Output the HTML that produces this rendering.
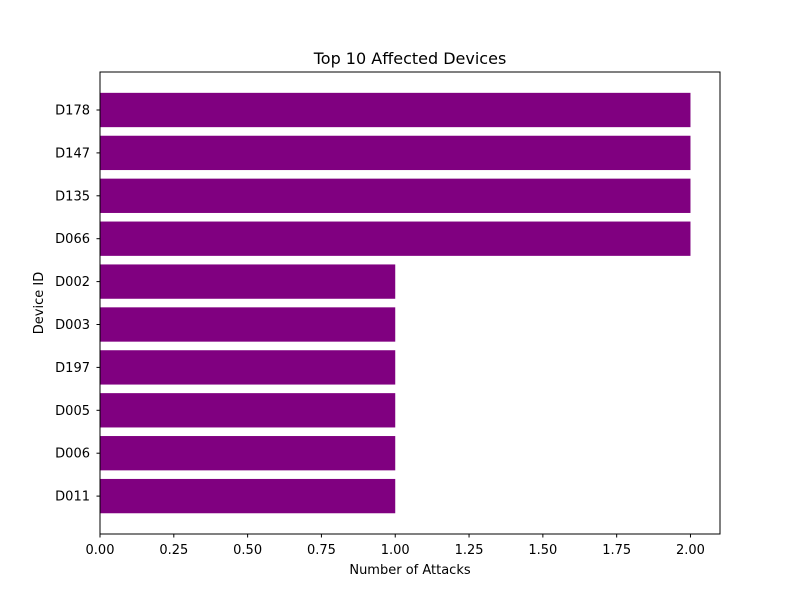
<!DOCTYPE html>
<html><head><meta charset="utf-8"><style>
body{margin:0;background:#fff;}
svg text{font-family:"DejaVu Sans","Liberation Sans",sans-serif;}
</style></head><body>
<svg width="800" height="600" xmlns="http://www.w3.org/2000/svg">
<g id="bars"></g>
<g id="xt"></g>
<g id="yt"></g>
<rect x="100" y="72" width="620" height="462" fill="none" stroke="#000" stroke-width="1"/>
<text x="410" y="64" font-size="16" text-anchor="middle">Top 10 Affected Devices</text>
<text x="410" y="574" font-size="13" text-anchor="middle">Number of Attacks</text>
<text x="0" y="0" font-size="13" text-anchor="middle" transform="translate(43,303) rotate(-90)">Device ID</text>
</svg>
<script>
const devices=["D178","D147","D135","D066","D002","D003","D197","D005","D006","D011"];
const attacks=[2,2,2,2,1,1,1,1,1,1];
const xTicks=[0,0.25,0.5,0.75,1,1.25,1.5,1.75,2];
const xTickLabels=["0.00","0.25","0.50","0.75","1.00","1.25","1.50","1.75","2.00"];
const NS="http://www.w3.org/2000/svg";
const xMax=Math.max(...attacks)*1.05;
const x=v=>100+v/xMax*620;
const n=devices.length;
const step=42.9;
const y=i=>110+i*step;
function mk(t,a,p){const e=document.createElementNS(NS,t);for(const k in a)e.setAttribute(k,a[k]);p.appendChild(e);return e;}
const bars=document.getElementById('bars'),xt=document.getElementById('xt'),yt=document.getElementById('yt');
devices.forEach((d,i)=>{
 const r=mk('rect',{x:x(0),y:y(i)-step*0.4,width:x(attacks[i])-x(0),height:step*0.8,fill:'#800080'},bars);
 
 
 const l=mk('line',{x1:100,x2:96.5,y1:y(i),y2:y(i),stroke:'#000'},yt);
 
 
 const t=mk('text',{x:90,y:y(i)+4.5,'font-size':13,'text-anchor':'end'},yt);
 t.textContent=d;
 
 
});
xTicks.forEach((v,i)=>{
 const l=mk('line',{x1:x(v),x2:x(v),y1:534,y2:537.5,stroke:'#000'},xt);
 
 
 const t=mk('text',{x:x(v),y:554,'font-size':13,'text-anchor':'middle'},xt);
 t.textContent=xTickLabels[i];
 
 
});
</script>
</body></html>
